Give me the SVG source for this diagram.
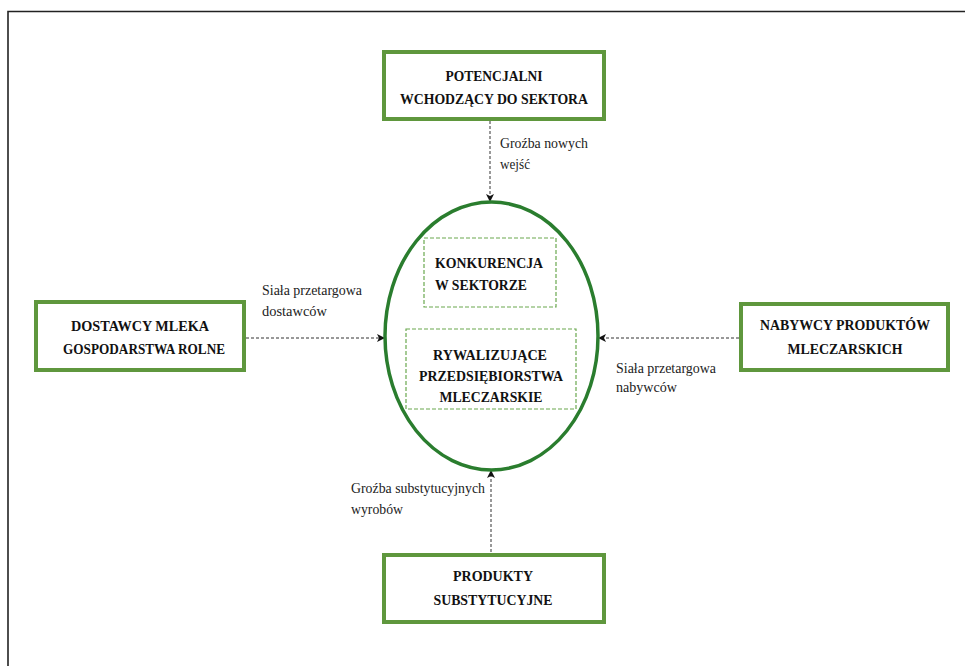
<svg xmlns="http://www.w3.org/2000/svg" width="965" height="666" viewBox="0 0 965 666">
<style>
.box{fill:#fff;stroke:#5f973d;stroke-width:4}
.inner{fill:none;stroke:#6aa84f;stroke-width:1.2;stroke-dasharray:4,2}
.t{font-family:"Liberation Serif","Times New Roman",serif;font-weight:bold;font-size:15.5px;fill:#111;text-anchor:middle}
.ts{text-anchor:start}
.l{font-family:"Liberation Serif","Times New Roman",serif;font-size:15px;fill:#222}
.c{fill:none;stroke:#333;stroke-width:1;stroke-dasharray:3,2}
</style>
<defs>
<marker id="ah" viewBox="0 0 8 8" refX="8" refY="4" markerWidth="8" markerHeight="8" markerUnits="userSpaceOnUse" orient="auto">
<path d="M0,0 L8,4 L0,8 L2,4 z" fill="#111"/>
</marker>
</defs>
<rect width="965" height="666" fill="#fff"/>
<path d="M8,666 V11.5 H965" fill="none" stroke="#222" stroke-width="1.6"/>

<g id="connectors">
<line class="c" x1="490" y1="121" x2="490" y2="202" marker-end="url(#ah)"/>
<line class="c" x1="246" y1="338" x2="385" y2="338" marker-end="url(#ah)"/>
<line class="c" x1="739" y1="338" x2="598" y2="338" marker-end="url(#ah)"/>
<line class="c" x1="491" y1="552" x2="491" y2="470" marker-end="url(#ah)"/>
<text class="l" x="500" y="148" textLength="88" lengthAdjust="spacingAndGlyphs">Groźba nowych</text>
<text class="l" x="500" y="169" textLength="30" lengthAdjust="spacingAndGlyphs">wejść</text>
<text class="l" x="262" y="295" textLength="100" lengthAdjust="spacingAndGlyphs">Siała przetargowa</text>
<text class="l" x="262" y="316" textLength="65" lengthAdjust="spacingAndGlyphs">dostawców</text>
<text class="l" x="616" y="373" textLength="100" lengthAdjust="spacingAndGlyphs">Siała przetargowa</text>
<text class="l" x="616" y="392" textLength="61" lengthAdjust="spacingAndGlyphs">nabywców</text>
<text class="l" x="351" y="493" textLength="134" lengthAdjust="spacingAndGlyphs">Groźba substytucyjnych</text>
<text class="l" x="351" y="514" textLength="52" lengthAdjust="spacingAndGlyphs">wyrobów</text>
</g>

<g id="center">
<ellipse cx="491.5" cy="336" rx="106.5" ry="134" fill="none" stroke="#2a7d2e" stroke-width="3.5"/>
<g id="konkurencja">
<rect class="inner" x="424" y="238" width="132" height="69"/>
<text class="t ts" x="435" y="268" textLength="108" lengthAdjust="spacingAndGlyphs">KONKURENCJA</text>
<text class="t ts" x="435" y="290" textLength="92" lengthAdjust="spacingAndGlyphs">W SEKTORZE</text>
</g>
<g id="rywalizujace">
<rect class="inner" x="406" y="329" width="170" height="80"/>
<text class="t" x="490" y="360" textLength="114" lengthAdjust="spacingAndGlyphs">RYWALIZUJĄCE</text>
<text class="t" x="491" y="381" textLength="144" lengthAdjust="spacingAndGlyphs">PRZEDSIĘBIORSTWA</text>
<text class="t" x="491" y="402" textLength="103" lengthAdjust="spacingAndGlyphs">MLECZARSKIE</text>
</g>
</g>

<g id="potencjalni">
<rect class="box" x="384" y="52" width="220" height="67"/>
<text class="t" x="494" y="81" textLength="97" lengthAdjust="spacingAndGlyphs">POTENCJALNI</text>
<text class="t" x="494" y="104" textLength="188" lengthAdjust="spacingAndGlyphs">WCHODZĄCY DO SEKTORA</text>
</g>

<g id="dostawcy">
<rect class="box" x="36" y="302" width="208" height="68"/>
<text class="t" x="140" y="331" textLength="138" lengthAdjust="spacingAndGlyphs">DOSTAWCY MLEKA</text>
<text class="t" x="144" y="354" textLength="162" lengthAdjust="spacingAndGlyphs">GOSPODARSTWA ROLNE</text>
</g>

<g id="nabywcy">
<rect class="box" x="741" y="304" width="207" height="66"/>
<text class="t" x="845" y="330" textLength="170" lengthAdjust="spacingAndGlyphs">NABYWCY PRODUKTÓW</text>
<text class="t" x="845" y="354" textLength="115" lengthAdjust="spacingAndGlyphs">MLECZARSKICH</text>
</g>

<g id="substytuty">
<rect class="box" x="384" y="555" width="220" height="67"/>
<text class="t" x="493" y="581" textLength="80" lengthAdjust="spacingAndGlyphs">PRODUKTY</text>
<text class="t" x="493" y="605" textLength="119" lengthAdjust="spacingAndGlyphs">SUBSTYTUCYJNE</text>
</g>
</svg>
